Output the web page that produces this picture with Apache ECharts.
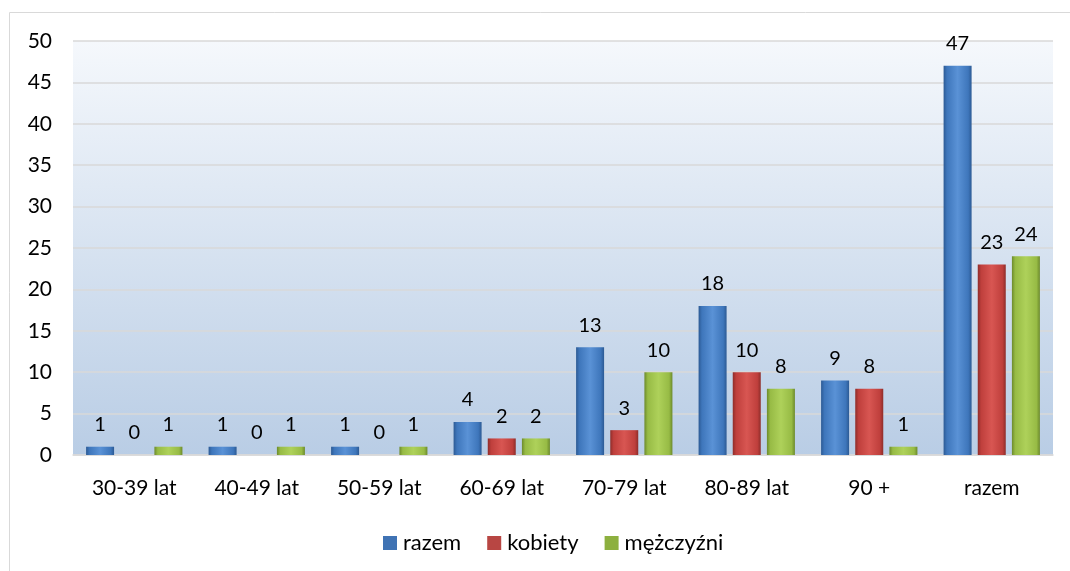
<!DOCTYPE html>
<html>
<head>
<meta charset="utf-8">
<script src="https://cdn.jsdelivr.net/npm/echarts@6/dist/echarts.min.js"></script>
<style>
  html, body { margin: 0; padding: 0; background: #fff; }
  #chart { width: 1070px; height: 571px; }
</style>
</head>
<body>
<div id="chart"></div>
<script>
var categories = ['30-39 lat', '40-49 lat', '50-59 lat', '60-69 lat', '70-79 lat', '80-89 lat', '90 +', 'razem'];
var razem = [1, 1, 1, 4, 13, 18, 9, 47];
var kobiety = [0, 0, 0, 2, 3, 10, 8, 23];
var mezczyzni = [1, 1, 1, 2, 10, 8, 1, 24];
var yTicks = { min: 0, max: 50, interval: 5 };

var font = 'Lato, "Open Sans", sans-serif';
var fs = 21;

// bevelled look: dark edges, lighter centre
function bevel(dark, mid, light) {
    return new echarts.graphic.LinearGradient(0, 0, 1, 0, [
        { offset: 0, color: dark },
        { offset: 0.12, color: mid },
        { offset: 0.5, color: light },
        { offset: 0.88, color: mid },
        { offset: 1, color: dark }
    ]);
}

function makeSeries(name, data, colors) {
    return {
        name: name,
        type: 'bar',
        data: data,
        barWidth: 28,
        barGap: '22%',
        itemStyle: {
            color: bevel(colors[0], colors[1], colors[2])
        },
        label: {
            show: true,
            position: 'top',
            distance: 12,
            color: '#000',
            fontFamily: font,
            fontSize: fs - 1
        }
    };
}

var chart = echarts.init(document.getElementById('chart'));

chart.setOption({
    animation: false,
    textStyle: { fontFamily: font },
    graphic: [{
        type: 'rect',
        shape: { x: 9.5, y: 12.5, width: 1100, height: 600 },
        style: { fill: 'none', stroke: '#d9d9d9', lineWidth: 1 },
        silent: true
    }],
    color: ['#4a7ebb', '#c0504d', '#9bbb59'],
    grid: {
        left: 73,
        right: 17,
        top: 41,
        bottom: 116,
        show: true,
        borderWidth: 0,
        backgroundColor: new echarts.graphic.LinearGradient(0, 0, 0, 1, [
            { offset: 0, color: '#f5f8fc' },
            { offset: 1, color: '#b9cde5' }
        ])
    },
    legend: {
        top: 527,
        left: 378,
        itemWidth: 14,
        itemHeight: 14,
        itemGap: 26,
        icon: 'rect',
        textStyle: { fontFamily: font, fontSize: 22, color: '#000', padding: [0, 0, 0, 1] },
        data: [
            { name: 'razem', itemStyle: { color: '#3f73b4' } },
            { name: 'kobiety', itemStyle: { color: '#b84643' } },
            { name: 'mężczyźni', itemStyle: { color: '#8db03f' } }
        ]
    },
    xAxis: {
        type: 'category',
        data: categories,
        axisLine: { lineStyle: { color: '#d9d9d9', width: 1.5 } },
        axisTick: { show: false },
        axisLabel: { color: '#000', fontSize: fs, fontFamily: font, margin: 23 }
    },
    yAxis: {
        type: 'value',
        min: yTicks.min,
        max: yTicks.max,
        interval: yTicks.interval,
        axisLine: { show: false },
        axisTick: { show: false },
        axisLabel: { color: '#000', fontSize: fs, fontFamily: font, margin: 21 },
        splitLine: { lineStyle: { color: '#d9d9d9', width: 1.5 } }
    },
    series: [
        makeSeries('razem', razem, ['#2c5a94', '#3e76bb', '#5a92d6']),
        makeSeries('kobiety', kobiety, ['#8e2d2a', '#bf3f3c', '#d85652']),
        makeSeries('mężczyźni', mezczyzni, ['#6c8a2c', '#97bb45', '#aed15a'])
    ]
});
</script>
</body>
</html>
